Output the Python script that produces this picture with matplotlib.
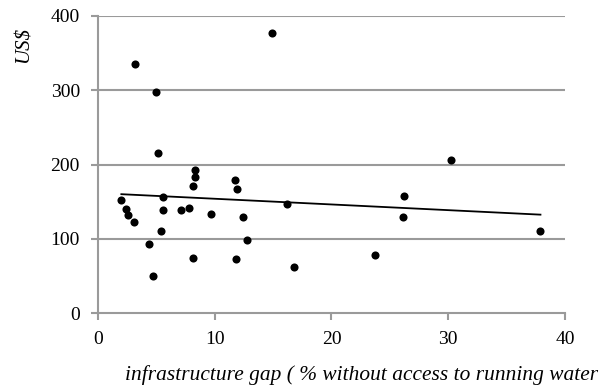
import numpy as np
import matplotlib.pyplot as plt

plt.rcParams['font.family'] = ['Liberation Serif', 'DejaVu Serif']

# infrastructure gap (% without access to running water) vs US$
gap = [2.0, 2.4, 2.6, 3.1, 3.2, 4.4, 4.7, 5.0, 5.1, 5.4, 5.6, 5.6, 7.1, 7.8,
       8.1, 8.3, 8.3, 8.1, 9.7, 11.7, 11.9, 11.8, 12.4, 12.8, 16.2, 14.9,
       16.8, 23.7, 26.2, 26.1, 30.2, 37.9]
usd = [152, 140, 132, 123, 335, 93, 50, 298, 215, 111, 156, 139, 139, 141,
       171, 183, 193, 74, 134, 179, 167, 73, 129, 99, 147, 377,
       62, 78, 158, 129, 206, 111]

xticks = [0, 10, 20, 30, 40]
yticks = [0, 100, 200, 300, 400]

fig = plt.figure(figsize=(6.06, 3.9), dpi=100)
ax = fig.add_axes([0.1617, 0.1974, 0.7706, 0.7616])

grid_c = '#9a9a9a'
for v in yticks[1:]:
    ax.axhline(v, color=grid_c, lw=1.5, zorder=0)

ax.scatter(gap, usd, s=34, color='black', zorder=3, linewidths=0)

# linear trend line
k, b = np.polyfit(gap, usd, 1)
xs = np.array([min(gap), max(gap)])
ax.plot(xs, k * xs + b, color='black', lw=1.3, zorder=2)

ax.set_xlim(0, 40)
ax.set_ylim(0, 400)
ax.set_xticks(xticks)
ax.set_yticks(yticks)
ax.tick_params(axis='both', labelsize=14, color=grid_c, width=1.5, length=5,
               direction='out', pad=8)

for s in ['top', 'right']:
    ax.spines[s].set_visible(False)
for s in ['left', 'bottom']:
    ax.spines[s].set_color(grid_c)
    ax.spines[s].set_linewidth(1.5)

fig.text(0.040, 0.885, 'US$', rotation=90, style='italic', fontsize=15,
         ha='center', va='center')
fig.text(0.207, 0.025, 'infrastructure gap ( % without access to running water',
         style='italic', fontsize=15.4, ha='left', va='baseline')

fig.savefig('out.png', dpi=100)
